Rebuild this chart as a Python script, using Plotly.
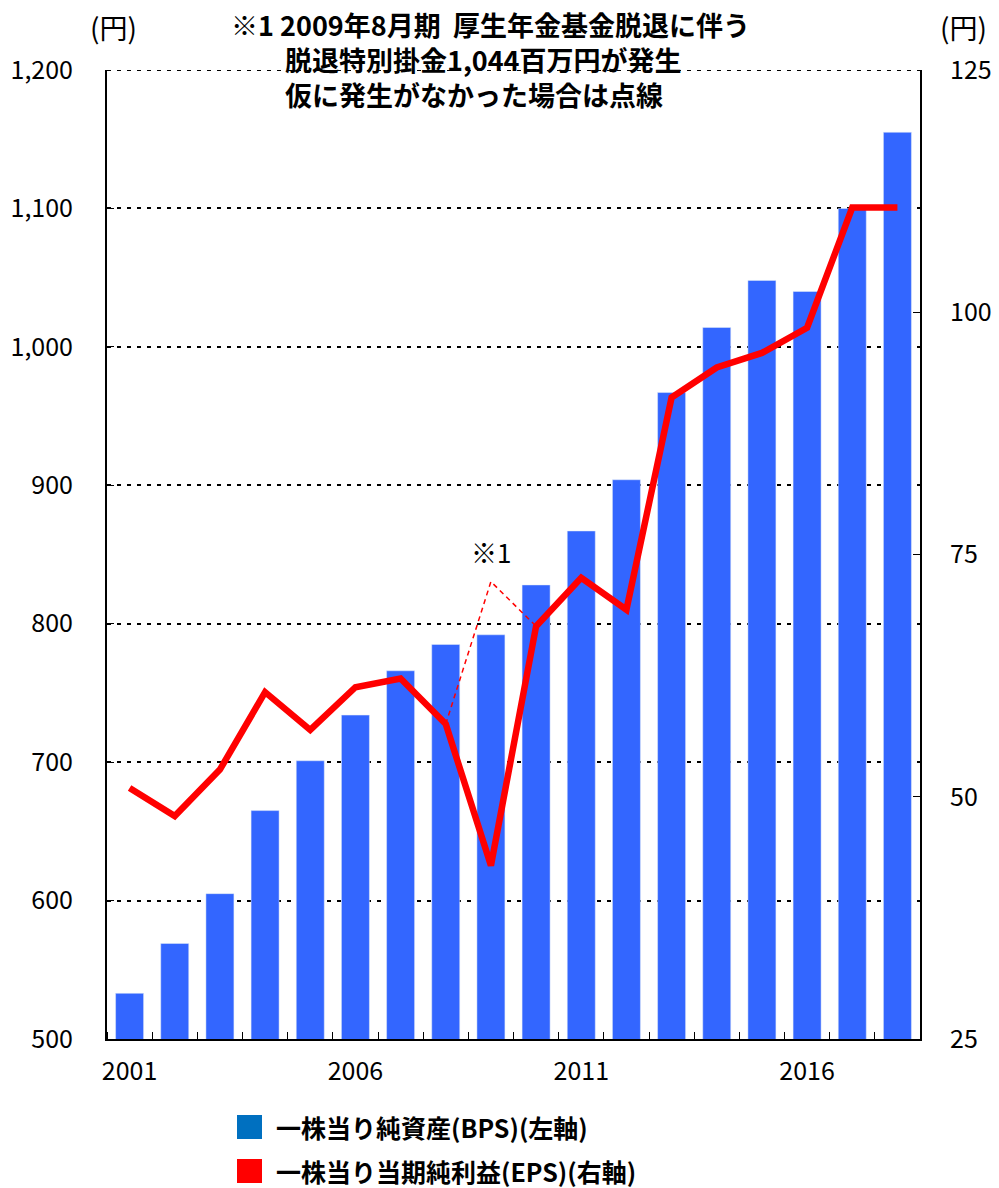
import plotly.graph_objects as go

years = list(range(2001, 2019))
bps = [533, 569, 605, 665, 701, 734, 766, 785, 792, 828, 867, 904, 967, 1014, 1048, 1040, 1100, 1155]
eps = [50.9, 48.0, 52.8, 60.8, 56.9, 61.3, 62.2, 57.5, 42.9, 67.6, 72.6, 69.3, 91.2, 94.3, 95.8, 98.4, 110.8, 110.8]
alt_years = [2008, 2009, 2010]
alt_eps = [57.5, 72.2, 67.6]

left_ticks = [500, 600, 700, 800, 900, 1000, 1100, 1200]
right_ticks = [25, 50, 75, 100, 125]
year_ticks = [2001, 2006, 2011, 2016]

FONT = "Noto Sans CJK JP"
NUMFONT = "Noto Sans CJK JP"
W, H = 999, 1188
L, R, T, B = 107, 79, 70, 149
PW, PH = W - L - R, H - T - B

def px(x):
    return (x - L) / PW

def py(y):
    return (H - B - y) / PH

fig = go.Figure()
fig.add_trace(go.Bar(x=years, y=bps, marker_color="#3366FF", width=0.62,
                     showlegend=False, yaxis="y"))
fig.add_trace(go.Scatter(x=alt_years, y=alt_eps, mode="lines", yaxis="y2",
                         line=dict(color="#FF0000", width=1.5, dash="5px,4px"), showlegend=False))
fig.add_trace(go.Scatter(x=years, y=eps, mode="lines", yaxis="y2",
                         line=dict(color="#FF0000", width=6.5), showlegend=False))

fig.update_layout(
    width=W, height=H,
    margin=dict(l=L, r=R, t=T, b=B, autoexpand=False),
    plot_bgcolor="white", paper_bgcolor="white",
    font=dict(family=FONT, color="black", size=21),
    bargap=0.38,
    xaxis=dict(range=[2000.5, 2018.5], tickmode="array", tickvals=year_ticks,
               ticktext=[str(y) for y in year_ticks], ticks="", showgrid=False,
               showline=True, linecolor="black", linewidth=2, ticklabelstandoff=9,
               tickfont=dict(family=NUMFONT, size=25),
               minor=dict(tickmode="linear", tick0=2000.5, dtick=1, ticks="inside",
                          ticklen=7, tickcolor="black", showgrid=False)),
    yaxis=dict(range=[500, 1200], tickmode="array", tickvals=left_ticks,
               ticktext=[f"{v:,}" for v in left_ticks],
               tickfont=dict(family=NUMFONT, size=25),
               showline=True, linecolor="black", linewidth=2, ticks="inside", ticklen=7,
               tickcolor="black", showgrid=True, gridcolor="black", gridwidth=2,
               griddash="4px,6px", zeroline=False, ticklabelstandoff=27),
    yaxis2=dict(range=[25, 125], tickmode="array", tickvals=right_ticks, overlaying="y",
                side="right", showline=True, linecolor="black", linewidth=2, ticks="inside",
                tickfont=dict(family=NUMFONT, size=25),
                ticklen=7, tickcolor="black", showgrid=False, zeroline=False,
                ticklabelstandoff=23),
)

# dotted line along the top edge (1,200)
fig.add_shape(type="line", xref="paper", yref="y", x0=0, x1=1, y0=left_ticks[-1], y1=left_ticks[-1],
              line=dict(color="black", width=2, dash="4px,6px"))

# axis unit labels
fig.add_annotation(xref="paper", yref="paper", x=px(113), y=py(27), text="(円)",
                   showarrow=False, font=dict(size=28), xanchor="center", yanchor="middle")
fig.add_annotation(xref="paper", yref="paper", x=px(963), y=py(27), text="(円)",
                   showarrow=False, font=dict(size=28), xanchor="center", yanchor="middle")

# note text (one block, lines 2-3 indented)
note_lines = ["※1 2009年8月期  厚生年金基金脱退に伴う",
              "　　脱退特別掛金1,044百万円が発生",
              "　　仮に発生がなかった場合は点線"]
fig.add_annotation(xref="paper", yref="paper", x=px(229), y=py(60),
                   text="<br>".join(f"<b>{t}</b>" for t in note_lines),
                   showarrow=False, font=dict(size=27), align="left",
                   xanchor="left", yanchor="middle")

fig.add_annotation(x=2009, y=75.3, yref="y2", text="※1", showarrow=False,
                   font=dict(size=26), xanchor="center", yanchor="middle")

# legend
legend_items = [("一株当り純資産(BPS)(左軸)", "#0070C0", 1127),
                ("一株当り当期純利益(EPS)(右軸)", "#FF0000", 1171)]
for txt, col, yc in legend_items:
    fig.add_shape(type="rect", xref="paper", yref="paper",
                  x0=px(237), x1=px(262), y0=py(yc + 12), y1=py(yc - 12),
                  fillcolor=col, line=dict(width=0))
    fig.add_annotation(xref="paper", yref="paper", x=px(274), y=py(yc), text=f"<b>{txt}</b>",
                       showarrow=False, font=dict(size=25), xanchor="left", yanchor="middle")

fig.write_html("out.html", config={"displayModeBar": False},
               post_script="document.body.style.margin='0';")
